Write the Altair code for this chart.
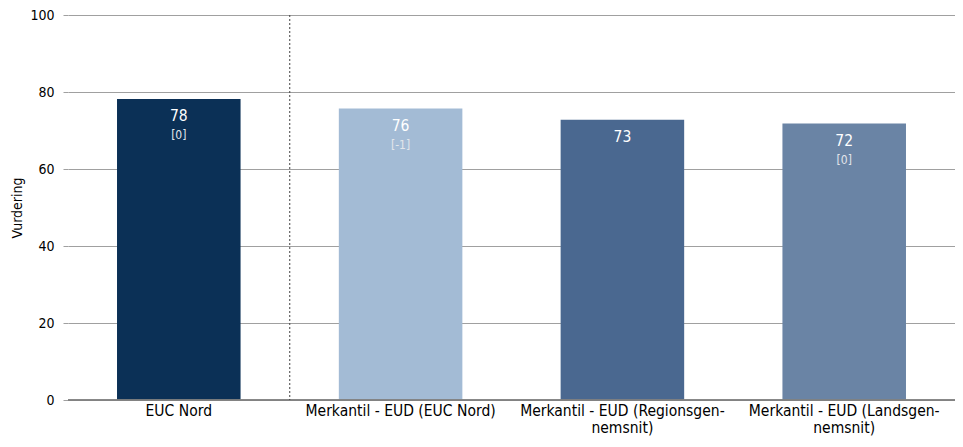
import altair as alt
import pandas as pd

categories = ["EUC Nord", "Merkantil - EUD (EUC Nord)", "Merkantil - EUD (Regionsgen-\nnemsnit)", "Merkantil - EUD (Landsgen-\nnemsnit)"]
values = [78.2, 75.7, 72.8, 71.8]
value_labels = ["78", "76", "73", "72"]
bracket_labels = ["[0]", "[-1]", "", "[0]"]
colors = ["#0b3056", "#a3bbd5", "#4a6890", "#6a84a5"]

df = pd.DataFrame({
    "cat": categories,
    "val": values,
    "lab": value_labels,
    "br": bracket_labels,
    "col": colors,
})

FONT = "DejaVu Sans Condensed"
W, H = 887, 385

x = alt.X("cat:N", sort=categories, title=None,
          scale=alt.Scale(paddingInner=0.443, paddingOuter=0.221),
          axis=alt.Axis(labelAngle=0, labelExpr="split(datum.label, '\\n')",
                        ticks=False, domain=False, labelFontSize=15.5,
                        labelColor="#000000", labelPadding=3, labelFont=FONT,
                        labelLineHeight=17, labelBaseline="top", labelLimit=0))

y = alt.Y("val:Q", title="Vurdering",
          scale=alt.Scale(domain=[0, 100]),
          axis=alt.Axis(values=[0, 20, 40, 60, 80, 100], grid=True,
                        gridColor="#a0a0a0", domain=False, tickSize=5,
                        tickColor="#a0a0a0", labelFontSize=14, labelColor="#000000",
                        labelFont=FONT, titleFont=FONT, titleFontSize=14,
                        titleFontWeight="normal", titleColor="#000000",
                        labelPadding=9, titlePadding=5))

base = alt.Chart(df)

bars = base.mark_bar().encode(
    x=x, y=y,
    color=alt.Color("col:N", scale=None, legend=None),
)

zero = base.mark_rule(color="#808080", strokeWidth=1).encode(
    y=alt.datum(0),
)

vlab = base.mark_text(color="white", fontSize=15.5, font=FONT, baseline="middle", dy=17).encode(
    x=alt.X("cat:N", sort=categories), y="val:Q", text="lab:N"
)
blab = base.mark_text(color="#e2e6eb", fontSize=12, font=FONT, baseline="middle", dy=36).encode(
    x=alt.X("cat:N", sort=categories), y="val:Q", text="br:N"
)

sep = alt.Chart(pd.DataFrame({"k": [0]})).mark_rule(
    color="#404040", strokeDash=[2, 2], strokeWidth=1
).encode(x=alt.value(W / 4), y=alt.value(0), y2=alt.value(H))

chart = alt.layer(bars, zero, sep, vlab, blab).properties(
    width=W, height=H,
    autosize=alt.AutoSizeParams(type="none"),
    padding={"left": 60, "top": 7, "right": 0, "bottom": 37},
).configure_view(stroke=None)

chart.save("out.html", embed_options={"renderer": "svg", "actions": False})
